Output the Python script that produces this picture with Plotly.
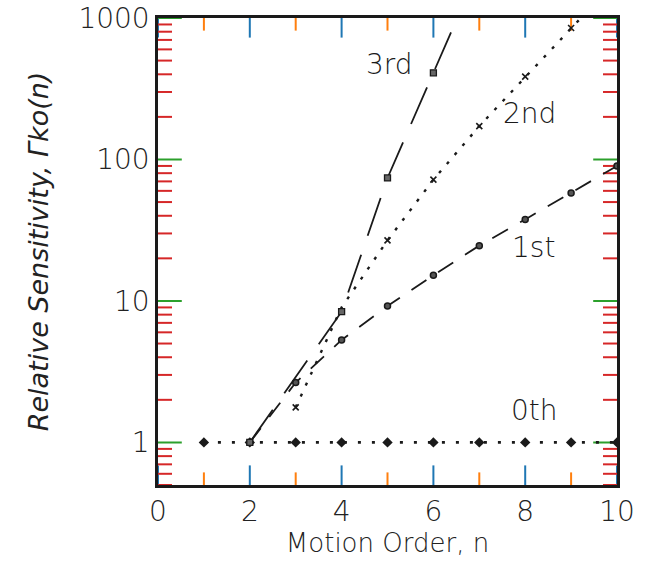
import math
import plotly.graph_objects as go

# ---- data ----
n_0th = [1, 2, 3, 4, 5, 6, 7, 8, 9, 10]
v_0th = [1.0, 1.0, 1.0, 1.0, 1.0, 1.0, 1.0, 1.0, 1.0, 1.0]

n_1st = [2, 3, 4, 5, 6, 7, 8, 9, 10]
v_1st = [1.0, 2.65, 5.3, 9.2, 15.2, 24.6, 37.7, 58, 90]

n_2nd = [3, 4, 5, 6, 7, 8, 9, 10]
v_2nd = [1.77, 9.0, 26.8, 72, 172, 385, 850, 1870]

n_3rd = [2, 4, 5, 6, 7]
v_3rd = [1.0, 8.4, 74, 410, 2275]

labels = ["3rd", "2nd", "1st", "0th"]
label_x = [5.05, 8.1, 8.17, 8.2]
label_y = [470, 210, 24, 1.67]

X_MIN, X_MAX = 0, 10
Y_MIN, Y_MAX = 0.5, 1000

# tick positions (axis decoration)
x_major = [0, 2, 4, 6, 8, 10]
x_minor = [1, 3, 5, 7, 9]
y_major = [1, 10, 100, 1000]
y_minor = [m * d for d in (0.1, 1, 10, 100) for m in range(2, 10) if 0.5 <= m * d < 1000]

FONT = "DejaVu Sans"
INK = "#1a1a1a"

fig = go.Figure()

# inward tick marks: line markers centred on the frame edge, the outer half clipped away
def tick_trace(xs, ys, symbol, size):
    return go.Scatter(x=xs, y=ys, mode="markers", cliponaxis=True, hoverinfo="skip",
                      marker=dict(symbol=symbol, size=size,
                                  line=dict(color=INK, width=2)),
                      showlegend=False)

for xs, size in ((x_major, 28), (x_minor, 18)):
    fig.add_trace(tick_trace(xs + xs, [Y_MIN] * len(xs) + [Y_MAX] * len(xs),
                             "line-ns-open", size))
for ys, size in ((y_major, 34), (y_minor, 20)):
    fig.add_trace(tick_trace([X_MIN] * len(ys) + [X_MAX] * len(ys), ys + ys,
                             "line-ew-open", size))

fig.add_trace(go.Scatter(
    x=n_0th, y=v_0th, mode="lines+markers",
    line=dict(color=INK, width=2.6, dash="3px,11px"),
    marker=dict(symbol="diamond", size=8, color=INK),
    showlegend=False))

fig.add_trace(go.Scatter(
    x=n_1st, y=v_1st, mode="lines+markers",
    line=dict(color=INK, width=1.8, dash="18px,14px"),
    marker=dict(symbol="circle", size=6, color="#555", line=dict(color=INK, width=1.5)),
    showlegend=False))

fig.add_trace(go.Scatter(
    x=n_2nd, y=v_2nd, mode="lines+markers",
    line=dict(color=INK, width=2.4, dash="3px,9px"),
    marker=dict(symbol="x-thin", size=6, color=INK, line=dict(color=INK, width=1.6),
                opacity=[1, 0, 1, 1, 1, 1, 1, 0]),
    showlegend=False))

fig.add_trace(go.Scatter(
    x=n_3rd, y=v_3rd, mode="lines+markers",
    line=dict(color=INK, width=1.8, dash="40px,20px"),
    marker=dict(symbol="square", size=6, color="#666", line=dict(color=INK, width=1.3),
                opacity=[1, 1, 1, 1, 0]),
    showlegend=False))

for t, x, y in zip(labels, label_x, label_y):
    fig.add_annotation(x=x, y=math.log10(y), yref="y", xref="x", text=t, showarrow=False,
                       font=dict(family=FONT, size=28, color=INK, weight=300))

tickfont = dict(family=FONT, size=28, color="#222", weight=300)

fig.update_layout(
    template="none",
    width=652, height=570,
    margin=dict(l=158, r=35, t=18, b=85),
    paper_bgcolor="white", plot_bgcolor="white",
    xaxis=dict(
        range=[X_MIN, X_MAX], tickmode="array", tickvals=x_major,
        showline=True, linecolor=INK, linewidth=2.5, mirror=True,
        ticks="", showgrid=False, zeroline=False, tickfont=tickfont,
        title=dict(text="Motion Order, n", standoff=4,
                   font=dict(family=FONT, size=26, color="#222", weight=300))),
    yaxis=dict(
        type="log", range=[math.log10(Y_MIN), math.log10(Y_MAX)],
        tickmode="array", tickvals=y_major, ticksuffix="  ",
        showline=True, linecolor=INK, linewidth=2.5, mirror=True,
        ticks="", showgrid=False, zeroline=False, tickfont=tickfont,
        title=dict(text="<i>Relative Sensitivity, Γko(n)</i>", standoff=22,
                   font=dict(family=FONT, size=27, color="#222", weight=300))),
)

fig.write_html("out.html")
